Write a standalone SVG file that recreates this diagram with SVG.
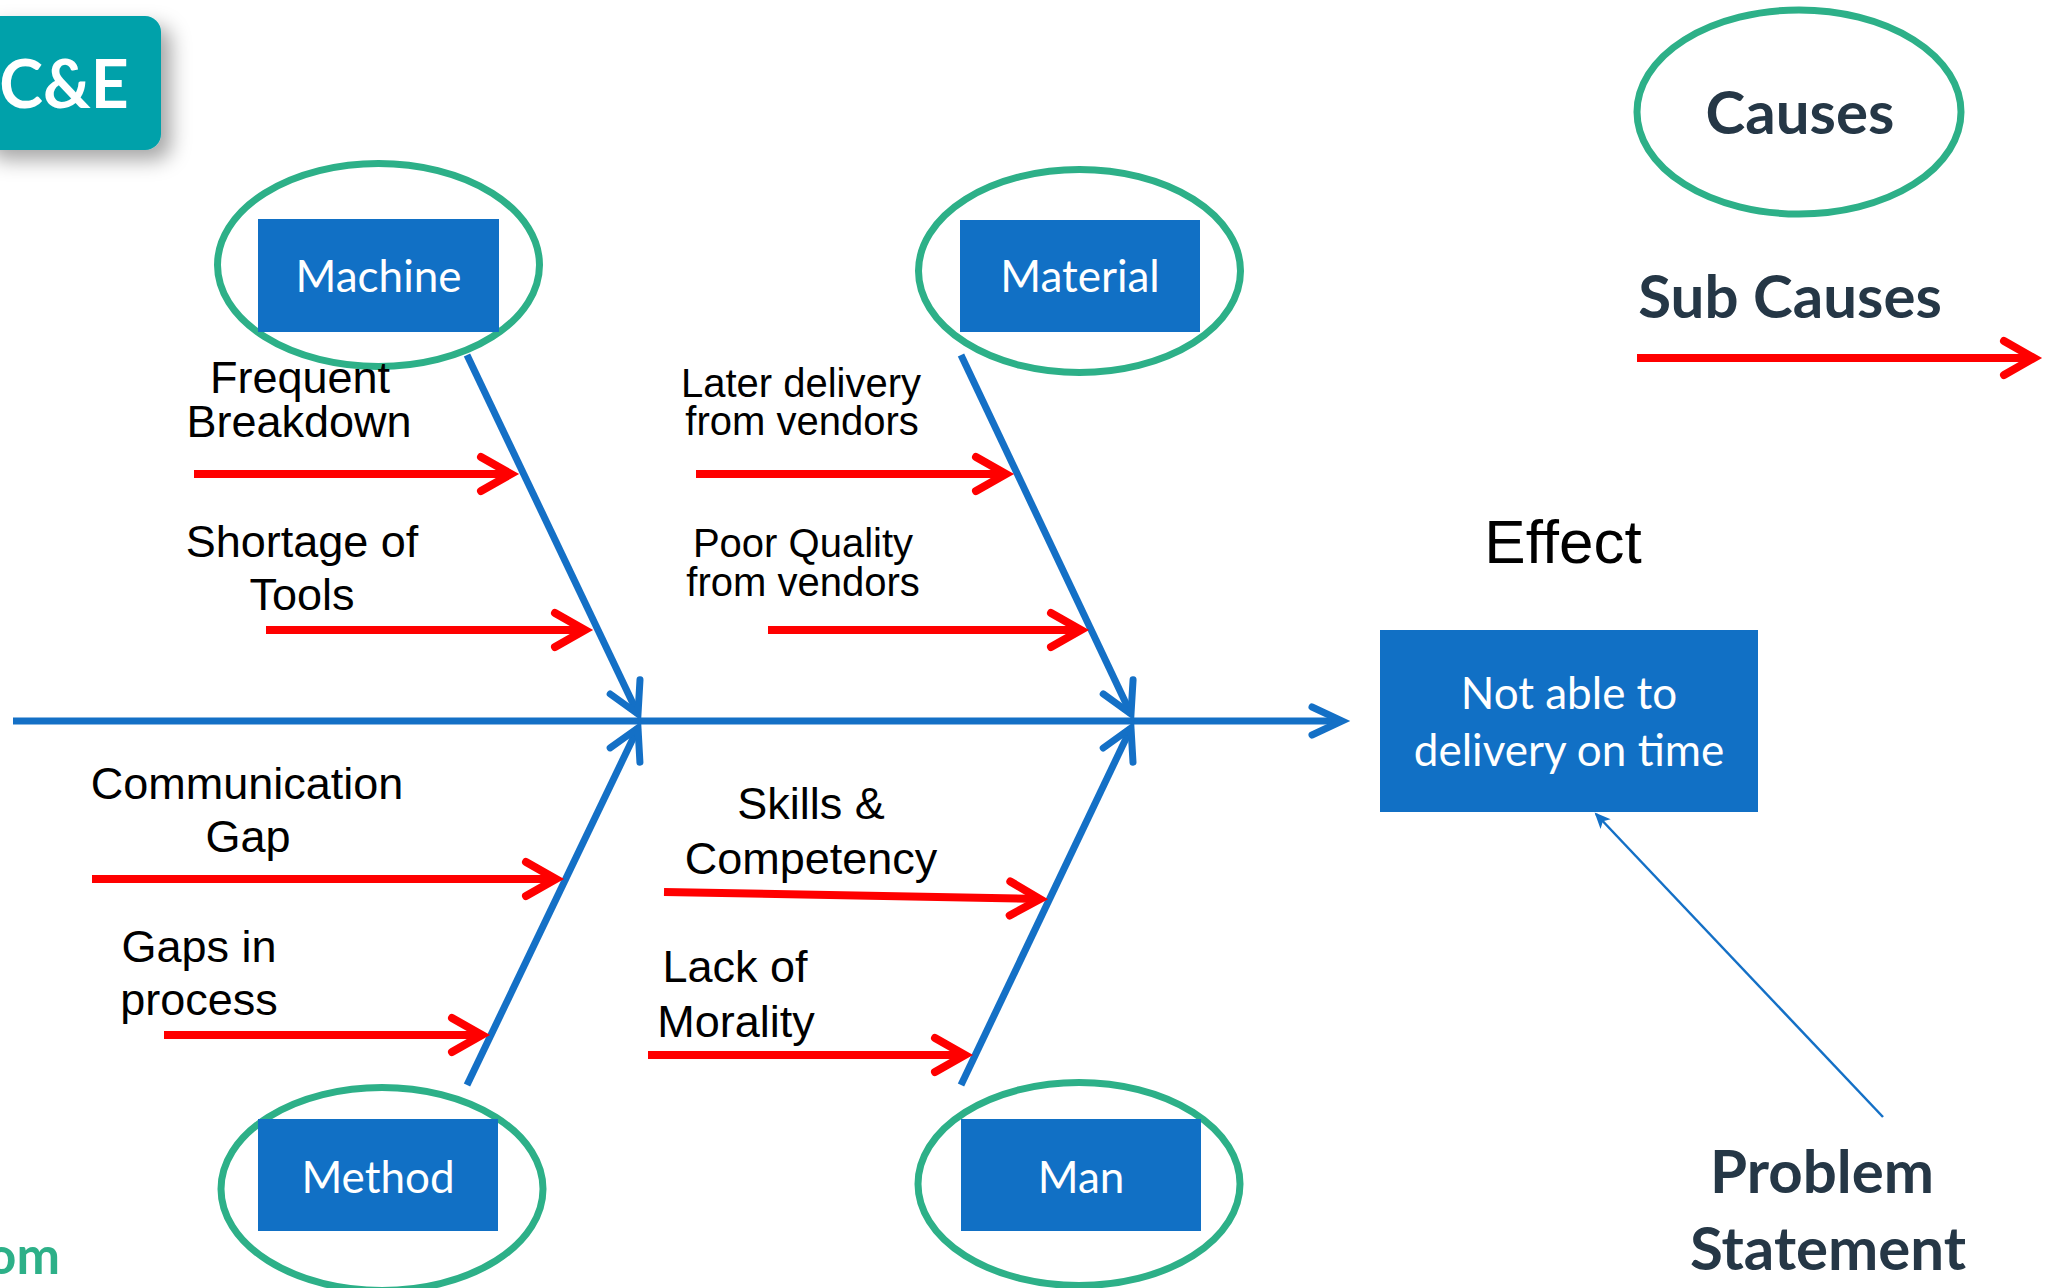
<svg xmlns="http://www.w3.org/2000/svg" width="2054" height="1288" viewBox="0 0 2054 1288">
  <defs>
    <style>
      .cat { fill: #1170C5; }
      .ring { fill: none; stroke: #2DB088; stroke-width: 7; }
      .cattext { font-family: Lato, "Open Sans", sans-serif; font-size: 44px; fill: #FFFFFF; text-anchor: middle; }
      .sub { font-family: "Liberation Sans", Arial, sans-serif; font-size: 45px; fill: #000000; text-anchor: middle; }
      .sub.small { font-size: 40px; }
      .bone { fill: none; stroke: #1470C6; stroke-width: 7; marker-end: url(#boneHead); }
      .spine { fill: none; stroke: #1470C6; stroke-width: 7; marker-end: url(#spineHead); }
      .subarrow { fill: none; stroke: #FF0000; stroke-width: 8; marker-end: url(#redHead); }
      .legend { font-family: Lato, "Open Sans", sans-serif; font-weight: bold; font-size: 60px; fill: #253746; text-anchor: middle; }
    </style>
    <marker id="boneHead" markerUnits="userSpaceOnUse" viewBox="-45 -25 55 50" markerWidth="55" markerHeight="50" refX="0" refY="0" orient="auto" overflow="visible">
      <path d="M-30,-16.5 L0,0 L-30,16.5" fill="none" stroke="#1470C6" stroke-width="7" stroke-linecap="round" stroke-linejoin="miter"/>
    </marker>
    <marker id="spineHead" markerUnits="userSpaceOnUse" viewBox="-45 -25 55 50" markerWidth="55" markerHeight="50" refX="0" refY="0" orient="auto" overflow="visible">
      <path d="M-30,-14 L0,0 L-30,14" fill="none" stroke="#1470C6" stroke-width="7" stroke-linecap="round" stroke-linejoin="miter"/>
    </marker>
    <marker id="redHead" markerUnits="userSpaceOnUse" viewBox="-45 -25 55 50" markerWidth="55" markerHeight="50" refX="0" refY="0" orient="auto" overflow="visible">
      <path d="M-30,-17 L0,0 L-30,17" fill="none" stroke="#FF0000" stroke-width="8" stroke-linecap="round" stroke-linejoin="miter"/>
    </marker>
    <marker id="thinHead" markerUnits="userSpaceOnUse" viewBox="-20 -10 24 20" markerWidth="24" markerHeight="20" refX="0" refY="0" orient="auto" overflow="visible">
      <path d="M2,0 L-14,-7 L-10,0 L-14,7 Z" fill="#1470C6"/>
    </marker>
    <filter id="softShadow" x="-20%" y="-20%" width="160%" height="160%">
      <feDropShadow dx="10" dy="10" stdDeviation="10" flood-color="#000000" flood-opacity="0.35"/>
    </filter>
  </defs>

  <rect width="2054" height="1288" fill="#FFFFFF"/>

  <!-- title badge -->
  <g id="badge">
    <rect x="-20" y="16" width="181" height="134" rx="16" fill="#02A1AA" filter="url(#softShadow)"/>
    <text x="64" y="108" font-family="Lato, 'Open Sans', sans-serif" font-weight="bold" font-size="66" fill="#FFFFFF" text-anchor="middle">C&amp;E</text>
  </g>

  <!-- spine, bones and sub-cause arrows -->
  <g id="connectors">
    <line class="spine" x1="13" y1="721" x2="1342" y2="721"/>
    <line class="bone" x1="467" y1="355" x2="638" y2="714"/>
    <line class="bone" x1="961" y1="355" x2="1131" y2="714"/>
    <line class="bone" x1="467" y1="1085" x2="638" y2="728"/>
    <line class="bone" x1="961" y1="1085" x2="1131" y2="728"/>

    <line class="subarrow" x1="194" y1="474" x2="511" y2="474"/>
    <line class="subarrow" x1="266" y1="630" x2="585" y2="630"/>
    <line class="subarrow" x1="696" y1="474" x2="1006" y2="474"/>
    <line class="subarrow" x1="768" y1="630" x2="1081" y2="630"/>
    <line class="subarrow" x1="92" y1="879" x2="556" y2="879"/>
    <line class="subarrow" x1="164" y1="1035" x2="482" y2="1035"/>
    <line class="subarrow" x1="664" y1="892" x2="1040" y2="899"/>
    <line class="subarrow" x1="648" y1="1055" x2="965" y2="1055"/>

    <line x1="1883" y1="1117" x2="1596" y2="814" stroke="#1470C6" stroke-width="2.5" marker-end="url(#thinHead)"/>
  </g>

  <!-- category nodes -->
  <g id="machine">
    <ellipse class="ring" cx="378.5" cy="265" rx="161" ry="101.5"/>
    <rect class="cat" x="258" y="219" width="241" height="113"/>
    <text class="cattext" x="378.5" y="292">Machine</text>
  </g>
  <g id="material">
    <ellipse class="ring" cx="1079.5" cy="271" rx="161" ry="101.5"/>
    <rect class="cat" x="960" y="220" width="240" height="112"/>
    <text class="cattext" x="1080" y="292">Material</text>
  </g>
  <g id="method">
    <ellipse class="ring" cx="382" cy="1189" rx="161" ry="101.5"/>
    <rect class="cat" x="258" y="1119" width="240" height="112"/>
    <text class="cattext" x="378" y="1193">Method</text>
  </g>
  <g id="man">
    <ellipse class="ring" cx="1079" cy="1184" rx="161" ry="101.5"/>
    <rect class="cat" x="961" y="1119" width="240" height="112"/>
    <text class="cattext" x="1081" y="1193">Man</text>
  </g>

  <!-- sub-cause labels -->
  <g id="frequent-breakdown">
    <text class="sub" x="300" y="393">Frequent</text>
    <text class="sub" x="299" y="437">Breakdown</text>
  </g>
  <g id="shortage-of-tools">
    <text class="sub" x="302" y="557">Shortage of</text>
    <text class="sub" x="302" y="610">Tools</text>
  </g>
  <g id="later-delivery">
    <text class="sub small" x="801" y="397">Later delivery</text>
    <text class="sub small" x="802" y="435">from vendors</text>
  </g>
  <g id="poor-quality">
    <text class="sub small" x="803" y="557">Poor Quality</text>
    <text class="sub small" x="803" y="596">from vendors</text>
  </g>
  <g id="communication-gap">
    <text class="sub" x="247" y="799">Communication</text>
    <text class="sub" x="248" y="852">Gap</text>
  </g>
  <g id="gaps-in-process">
    <text class="sub" x="199" y="962">Gaps in</text>
    <text class="sub" x="199" y="1015">process</text>
  </g>
  <g id="skills-competency">
    <text class="sub" x="811" y="819">Skills &amp;</text>
    <text class="sub" x="811" y="874">Competency</text>
  </g>
  <g id="lack-of-morality">
    <text class="sub" x="735" y="982">Lack of</text>
    <text class="sub" x="736" y="1037">Morality</text>
  </g>

  <!-- effect -->
  <g id="effect">
    <text x="1563" y="563" font-family="'Liberation Sans', Arial, sans-serif" font-size="62" fill="#000000" text-anchor="middle">Effect</text>
    <rect class="cat" x="1380" y="630" width="378" height="182"/>
    <text class="cattext" x="1569" y="709" font-size="45">Not able to</text>
    <text class="cattext" x="1569" y="766" font-size="45">delivery on time</text>
  </g>

  <!-- key -->
  <g id="legend-causes">
    <ellipse class="ring" cx="1799" cy="112" rx="162" ry="102"/>
    <text class="legend" x="1800" y="134">Causes</text>
  </g>
  <g id="legend-subcauses">
    <text class="legend" x="1790" y="318">Sub Causes</text>
    <line class="subarrow" x1="1637" y1="358" x2="2034" y2="358"/>
  </g>
  <g id="problem-statement">
    <text class="legend" x="1822" y="1193">Problem</text>
    <text class="legend" x="1828" y="1270">Statement</text>
  </g>

  <text x="60" y="1274" font-family="Lato, 'Open Sans', sans-serif" font-weight="bold" font-size="52" fill="#2DB088" text-anchor="end">om</text>
</svg>
